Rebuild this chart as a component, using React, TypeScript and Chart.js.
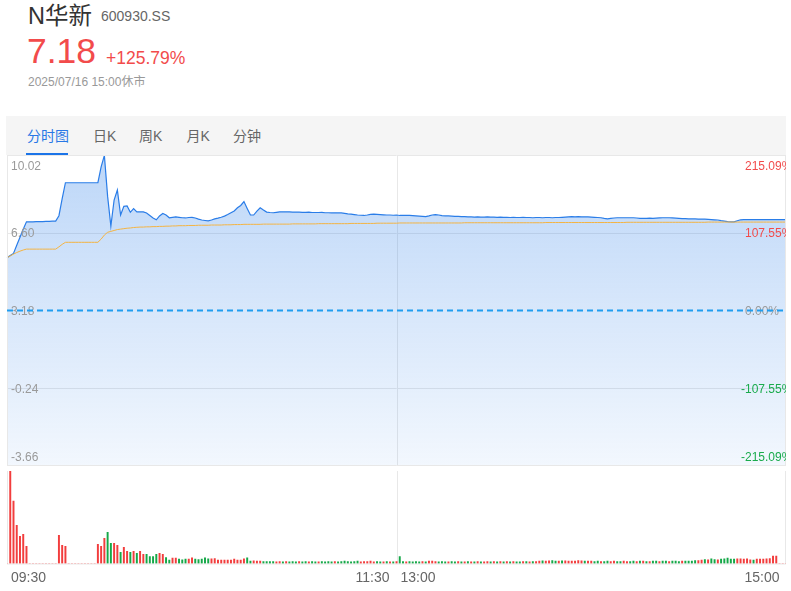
import React, { useEffect, useRef } from 'react';
import { Chart, registerables } from 'chart.js';

Chart.register(...registerables);

const FONT = '"Liberation Sans", Arial, "Noto Sans CJK SC", sans-serif';
const RED = '#f24b4b';
const GREEN = '#1aab4c';
const GRID = '#e8e8e8';

const prevClose = 3.18;
const priceTicks = [10.02, 6.6, 3.18, -0.24, -3.66];
const priceTickLabels = ['10.02', '6.60', '3.18', '-0.24', '-3.66'];
const pctTickLabels = ['215.09%', '107.55%', '0.00%', '-107.55%', '-215.09%'];
const timeTicks = ['09:30', '11:30', '13:00', '15:00'];

const price = [
  5.50, 5.60, 5.69, 6.05, 6.40, 6.75, 7.08, 7.08, 7.08, 7.09,
  7.09, 7.09, 7.10, 7.10, 7.11, 7.11, 7.35, 8.10, 8.80, 8.80,
  8.80, 8.80, 8.80, 8.80, 8.80, 8.80, 8.80, 8.80, 8.80, 9.50,
  10.00, 8.20, 6.89, 8.04, 8.48, 7.38, 7.76, 7.78, 7.50, 7.66,
  7.52, 7.52, 7.52, 7.47, 7.36, 7.25, 7.17, 7.34, 7.45, 7.38,
  7.26, 7.28, 7.30, 7.28, 7.26, 7.25, 7.27, 7.28, 7.25, 7.20,
  7.16, 7.14, 7.12, 7.16, 7.21, 7.24, 7.28, 7.33, 7.40, 7.48,
  7.56, 7.70, 7.80, 7.97, 7.67, 7.38, 7.38, 7.55, 7.70, 7.60,
  7.51, 7.49, 7.48, 7.50, 7.52, 7.52, 7.52, 7.52, 7.51, 7.51,
  7.51, 7.50, 7.50, 7.51, 7.49, 7.49, 7.49, 7.50, 7.48, 7.48,
  7.47, 7.48, 7.47, 7.47, 7.45, 7.43, 7.42, 7.40, 7.38, 7.37,
  7.36, 7.38, 7.41, 7.42, 7.41, 7.40, 7.39, 7.38, 7.38, 7.37,
  7.38, 7.36, 7.36, 7.37, 7.36, 7.35, 7.34, 7.33, 7.32, 7.31,
  7.34, 7.38, 7.40, 7.38, 7.35, 7.34, 7.34, 7.33, 7.32, 7.32,
  7.31, 7.31, 7.30, 7.30, 7.29, 7.30, 7.29, 7.29, 7.30, 7.29,
  7.29, 7.28, 7.29, 7.28, 7.28, 7.27, 7.28, 7.27, 7.27, 7.28,
  7.27, 7.27, 7.26, 7.27, 7.27, 7.26, 7.27, 7.27, 7.26, 7.27,
  7.27, 7.28, 7.29, 7.30, 7.31, 7.30, 7.31, 7.30, 7.30, 7.30,
  7.29, 7.28, 7.27, 7.26, 7.23, 7.21, 7.23, 7.25, 7.26, 7.26,
  7.26, 7.26, 7.26, 7.26, 7.25, 7.23, 7.23, 7.23, 7.24, 7.23,
  7.24, 7.25, 7.26, 7.26, 7.26, 7.25, 7.24, 7.23, 7.22, 7.22,
  7.21, 7.21, 7.21, 7.20, 7.20, 7.20, 7.19, 7.18, 7.17, 7.16,
  7.13, 7.11, 7.09, 7.08, 7.08, 7.13, 7.17, 7.18, 7.18, 7.18,
  7.18, 7.18, 7.18, 7.18, 7.18, 7.18, 7.18, 7.18, 7.18, 7.18,
  7.18,
];

const avgPrice = [
  5.50, 5.58, 5.66, 5.73, 5.79, 5.84, 5.88, 5.88, 5.88, 5.88,
  5.88, 5.88, 5.88, 5.88, 5.88, 5.88, 5.98, 6.09, 6.18, 6.18,
  6.18, 6.18, 6.18, 6.18, 6.18, 6.18, 6.18, 6.18, 6.18, 6.32,
  6.50, 6.62, 6.66, 6.70, 6.74, 6.76, 6.78, 6.80, 6.81, 6.83,
  6.84, 6.85, 6.85, 6.86, 6.86, 6.87, 6.87, 6.88, 6.88, 6.89,
  6.89, 6.90, 6.90, 6.91, 6.91, 6.91, 6.92, 6.92, 6.92, 6.93,
  6.93, 6.93, 6.93, 6.94, 6.94, 6.94, 6.94, 6.95, 6.95, 6.95,
  6.96, 6.96, 6.96, 6.97, 6.97, 6.97, 6.97, 6.97, 6.97, 6.98,
  6.98, 6.98, 6.98, 6.98, 6.98, 6.98, 6.98, 6.98, 6.99, 6.99,
  6.99, 6.99, 6.99, 6.99, 6.99, 6.99, 7.00, 7.00, 7.00, 7.00,
  7.00, 7.00, 7.00, 7.00, 7.00, 7.00, 7.01, 7.01, 7.01, 7.01,
  7.01, 7.01, 7.01, 7.01, 7.02, 7.02, 7.02, 7.02, 7.02, 7.02,
  7.02, 7.03, 7.03, 7.03, 7.03, 7.03, 7.03, 7.03, 7.03, 7.03,
  7.03, 7.03, 7.03, 7.03, 7.03, 7.03, 7.03, 7.03, 7.03, 7.03,
  7.03, 7.04, 7.04, 7.04, 7.04, 7.04, 7.04, 7.04, 7.04, 7.04,
  7.04, 7.04, 7.04, 7.04, 7.04, 7.04, 7.04, 7.04, 7.04, 7.04,
  7.04, 7.04, 7.04, 7.04, 7.04, 7.04, 7.05, 7.05, 7.05, 7.05,
  7.05, 7.05, 7.05, 7.05, 7.05, 7.05, 7.05, 7.05, 7.05, 7.05,
  7.05, 7.05, 7.05, 7.05, 7.05, 7.05, 7.05, 7.05, 7.05, 7.05,
  7.05, 7.06, 7.06, 7.06, 7.06, 7.06, 7.06, 7.06, 7.06, 7.06,
  7.06, 7.06, 7.06, 7.06, 7.06, 7.06, 7.06, 7.06, 7.06, 7.06,
  7.06, 7.06, 7.06, 7.06, 7.06, 7.06, 7.07, 7.07, 7.07, 7.07,
  7.07, 7.07, 7.07, 7.07, 7.07, 7.07, 7.07, 7.07, 7.07, 7.07,
  7.07, 7.07, 7.07, 7.07, 7.07, 7.07, 7.07, 7.07, 7.07, 7.07,
  7.07,
];

const volume = [
  0, 92, 62, 38, 27, 29, 17, 0, 0, 0,
  0, 0, 0, 0, 0, 0, 28, 18, 17, 0,
  0, 0, 0, 0, 0, 0, 0, 0, 19, 17,
  25, 31, 20, 20, 18, 11, 16, 12, 11, 12,
  10, 12, 9, 9, 7, 7, 9, 10, 9, 6,
  3.3, 5.3, 5.3, 4.3, 3.7, 4.3, 4.3, 5.7, 4.3, 4,
  4.3, 5.7, 4.7, 4.7, 5, 3.3, 3.3, 3.3, 3.3, 3.3,
  4.3, 3.3, 3.3, 4.7, 5.7, 2.3, 2.7, 2.3, 2.3, 2,
  2, 2, 2.0, 1.7, 2.0, 1.7, 2.0, 1.7, 2.0, 1.7,
  2.0, 1.7, 2.0, 1.7, 2.0, 1.7, 1.7, 2.0, 1.7, 2.0,
  1.7, 2.0, 1.7, 2.0, 2.3, 2.0, 1.7, 2.0, 2.3, 1.7,
  2.0, 2.0, 2.3, 1.7, 2.0, 1.7, 1.7, 2.0, 1.7, 1.7,
  2.0, 7.0, 2.0, 1.7, 2.0, 1.7, 2.0, 1.7, 2.0, 1.7,
  2.3, 2.3, 2.0, 1.7, 2.0, 1.7, 1.7, 2.0, 1.7, 2.0,
  1.7, 1.7, 2.0, 1.7, 1.7, 2.0, 1.7, 1.7, 2.0, 1.7,
  2.0, 1.7, 2.0, 1.7, 2.0, 1.7, 2.0, 1.7, 1.7, 2.0,
  2.0, 1.7, 2.0, 2.0, 2.3, 2.7, 2.3, 2.7, 3.0, 2.3,
  2.3, 2.7, 2.7, 2.3, 2.3, 2.3, 3.0, 2.7, 2.3, 2.3,
  2.3, 2.0, 2.3, 2.0, 2.0, 2.3, 2.0, 2.3, 2.0, 2.0,
  2.3, 2.0, 2.0, 2.3, 2.0, 2.3, 2.3, 2.0, 2.0, 2.3,
  2.3, 2.0, 2.3, 2.3, 2.0, 2.3, 2.3, 2.0, 2.3, 2.3,
  2.3, 2.3, 3.0, 3.0, 3.3, 4.0, 3.7, 4.7, 4.0, 3.7,
  4.3, 4.7, 5.3, 4.3, 4.3, 4.7, 4.7, 4.3, 4.7, 3.7,
  3.3, 4.3, 4.3, 4.3, 4.7, 5.0, 7.3, 7.3, 0, 0,
  0,
];

// u = up (red), d = down (green)
const volumeDir = (
  'uuuuuuuuuu' + 'uuuuuuuuuu' + 'uuuuuuuuuu' + 'udduuduudu' +
  'duudddduud' + 'duuddduudd' + 'ddduuuuuuu' + 'uuuudduuud' +
  'ddduududdd' + 'uddudduddd' + 'dudddddddu' + 'uuuuddudud' +
  'udduddddud' + 'uuuddduddu' + 'dudududuud' + 'ududududdu' +
  'duduuduudd' + 'uduuuuuudu' + 'uddudduudd' + 'uuddududud' +
  'duddudddud' + 'ddduududdu' + 'ddddduuuuu' + 'duuuuuuuuuu'
).split('');

function buildMinuteLabels(): string[] {
  const out: string[] = [];
  const push = (h: number, m: number) =>
    out.push(String(h).padStart(2, '0') + ':' + String(m).padStart(2, '0'));
  for (let t = 9 * 60 + 30; t <= 11 * 60 + 30; t++) push(Math.floor(t / 60), t % 60);
  for (let t = 13 * 60 + 1; t <= 15 * 60; t++) push(Math.floor(t / 60), t % 60);
  return out;
}
const minuteLabels = buildMinuteLabels();

const priceDecor = {
  id: 'priceDecor',
  beforeDatasetsDraw(chart: any) {
    const { ctx, chartArea: a, scales } = chart;
    const y = scales.y;
    const x = scales.x;
    ctx.save();
    ctx.strokeStyle = GRID;
    ctx.lineWidth = 1;
    ctx.beginPath();
    [priceTicks[1], priceTicks[3]].forEach((v) => {
      const py = Math.round(y.getPixelForValue(v)) + 0.5;
      ctx.moveTo(a.left, py);
      ctx.lineTo(a.right, py);
    });
    const vx = Math.round(x.getPixelForValue(120)) + 0.5;
    ctx.moveTo(vx, a.top);
    ctx.lineTo(vx, a.bottom);
    ctx.stroke();
    ctx.restore();
  },
  afterDatasetsDraw(chart: any) {
    const { ctx, chartArea: a, scales } = chart;
    const y = scales.y;
    ctx.save();
    ctx.strokeStyle = GRID;
    ctx.lineWidth = 1;
    ctx.beginPath();
    ctx.moveTo(a.left + 0.5, a.top);
    ctx.lineTo(a.left + 0.5, a.bottom);
    ctx.moveTo(a.right - 0.5, a.top);
    ctx.lineTo(a.right - 0.5, a.bottom);
    ctx.moveTo(a.left, a.bottom - 0.5);
    ctx.lineTo(a.right, a.bottom - 0.5);
    ctx.moveTo(a.left, a.top + 0.5);
    ctx.lineTo(a.right, a.top + 0.5);
    ctx.stroke();

    ctx.beginPath();
    ctx.rect(a.left, a.top, a.right - a.left, a.bottom - a.top);
    ctx.clip();
    ctx.font = '12px ' + FONT;
    ctx.textBaseline = 'middle';
    const n = priceTicks.length;
    priceTicks.forEach((v, k) => {
      let py = y.getPixelForValue(v) + 1;
      if (k === 0) py = a.top + 12;
      if (k === n - 1) py = a.bottom - 8.5;
      ctx.textAlign = 'left';
      ctx.fillStyle = '#9a9a9a';
      ctx.fillText(priceTickLabels[k], a.left + 4, py);
      const pl = pctTickLabels[k];
      ctx.fillStyle = k < 2 ? RED : k === 2 ? '#9a9a9a' : GREEN;
      let px = 745;
      if (pl.startsWith('-')) px -= ctx.measureText('-').width;
      ctx.fillText(pl, px, py);
    });

    const cy = y.getPixelForValue(prevClose);
    ctx.strokeStyle = '#1f9df0';
    ctx.lineWidth = 2;
    ctx.setLineDash([6, 4]);
    ctx.beginPath();
    ctx.moveTo(a.left, cy);
    ctx.lineTo(a.right, cy);
    ctx.stroke();
    ctx.restore();
  },
};

const volDecor = {
  id: 'volDecor',
  beforeDatasetsDraw(chart: any) {
    const { ctx, chartArea: a, scales } = chart;
    const x = scales.x;
    ctx.save();
    ctx.strokeStyle = GRID;
    ctx.lineWidth = 1;
    ctx.beginPath();
    const vx = Math.round(x.getPixelForValue(120)) + 0.5;
    ctx.moveTo(vx, a.top);
    ctx.lineTo(vx, a.bottom);
    ctx.moveTo(a.left + 0.5, a.top);
    ctx.lineTo(a.left + 0.5, a.bottom);
    ctx.moveTo(a.right - 0.5, a.top);
    ctx.lineTo(a.right - 0.5, a.bottom);
    ctx.moveTo(a.left, a.bottom + 0.5);
    ctx.lineTo(a.right, a.bottom + 0.5);
    ctx.stroke();
    ctx.restore();
  },
  afterDraw(chart: any) {
    const { ctx, chartArea: a, scales } = chart;
    const x = scales.x;
    ctx.save();
    ctx.font = '14px ' + FONT;
    ctx.fillStyle = '#666';
    ctx.textBaseline = 'middle';
    const ty = a.bottom + 14.5;
    const mid = x.getPixelForValue(120);
    ctx.textAlign = 'left';
    ctx.fillText(timeTicks[0], x.getPixelForValue(0) + 4, ty);
    ctx.textAlign = 'right';
    ctx.fillText(timeTicks[1], mid - 7, ty);
    ctx.textAlign = 'left';
    ctx.fillText(timeTicks[2], mid + 4, ty);
    ctx.textAlign = 'right';
    ctx.fillText(timeTicks[3], x.getPixelForValue(240) - 6.5, ty);
    ctx.restore();
  },
};

const abs = (s: React.CSSProperties): React.CSSProperties => ({
  position: 'absolute',
  whiteSpace: 'nowrap',
  margin: 0,
  ...s,
});

export default function App() {
  const priceRef = useRef<HTMLCanvasElement>(null);
  const volRef = useRef<HTMLCanvasElement>(null);

  useEffect(() => {
    const pc = new Chart(priceRef.current as HTMLCanvasElement, {
      type: 'line',
      data: {
        labels: minuteLabels,
        datasets: [
          {
            label: '均价',
            data: avgPrice,
            borderColor: '#f4b443',
            borderWidth: 1,
            pointRadius: 0,
            fill: false,
            tension: 0,
            order: 1,
          },
          {
            label: '价格',
            data: price,
            borderColor: '#2a7de8',
            borderWidth: 1.2,
            pointRadius: 0,
            tension: 0,
            fill: 'start',
            order: 2,
            backgroundColor: (c: any) => {
              const area = c.chart.chartArea;
              if (!area) return 'rgba(36,122,232,0.2)';
              const g = c.chart.ctx.createLinearGradient(0, area.top, 0, area.bottom);
              g.addColorStop(0, 'rgba(36,122,232,0.30)');
              g.addColorStop(1, 'rgba(36,122,232,0.06)');
              return g;
            },
          },
        ],
      },
      options: {
        responsive: false,
        animation: false,
        events: [],
        layout: { padding: { left: 7, right: 5, top: 5, bottom: 6 } },
        plugins: { legend: { display: false }, tooltip: { enabled: false } },
        scales: {
          x: { display: false },
          y: { display: false, min: priceTicks[4], max: priceTicks[0] },
        },
      },
      plugins: [priceDecor],
    } as any);

    const vc = new Chart(volRef.current as HTMLCanvasElement, {
      type: 'bar',
      data: {
        labels: minuteLabels,
        datasets: [
          {
            label: '成交量',
            data: volume,
            backgroundColor: volumeDir.map((d) => (d === 'u' ? '#f23d3d' : '#15a848')),
            borderWidth: 0,
            barThickness: 1.3,
          },
        ],
      },
      options: {
        responsive: false,
        animation: false,
        events: [],
        layout: { padding: { left: 7, right: 5, top: 5, bottom: 27.5 } },
        plugins: { legend: { display: false }, tooltip: { enabled: false } },
        scales: {
          x: { display: false, offset: false },
          y: { display: false, min: 0, max: 92 },
        },
      },
      plugins: [volDecor],
    } as any);

    return () => {
      pc.destroy();
      vc.destroy();
    };
  }, []);

  return (
    <div
      style={{
        position: 'absolute',
        left: 0,
        top: 0,
        width: 791,
        height: 591,
        background: '#fff',
        fontFamily: FONT,
        overflow: 'hidden',
      }}
    >
      <div style={abs({ left: 28, top: 5, fontSize: 23.5, lineHeight: '23.5px', color: '#333' })}>N华新</div>
      <div style={abs({ left: 101, top: 9, fontSize: 14, lineHeight: '14px', color: '#666' })}>600930.SS</div>
      <div style={abs({ left: 27, top: 34, fontSize: 35.5, lineHeight: '35.5px', color: RED })}>7.18</div>
      <div style={abs({ left: 106, top: 49.5, fontSize: 17.5, lineHeight: '17.5px', color: RED })}>+125.79%</div>
      <div style={abs({ left: 28, top: 76, fontSize: 12, lineHeight: '12px', color: '#999' })}>
        2025/07/16 15:00休市
      </div>

      <div style={abs({ left: 6, top: 116, width: 780, height: 39, background: '#f5f5f5' })} />
      <div style={abs({ left: 27, top: 128.5, fontSize: 14, lineHeight: '14px', color: '#2878e6' })}>分时图</div>
      <div style={abs({ left: 93, top: 128.5, fontSize: 14, lineHeight: '14px', color: '#666' })}>日K</div>
      <div style={abs({ left: 139, top: 128.5, fontSize: 14, lineHeight: '14px', color: '#666' })}>周K</div>
      <div style={abs({ left: 186.5, top: 128.5, fontSize: 14, lineHeight: '14px', color: '#666' })}>月K</div>
      <div style={abs({ left: 233, top: 128.5, fontSize: 14, lineHeight: '14px', color: '#666' })}>分钟</div>
      <div style={abs({ left: 26, top: 153, width: 42, height: 2, background: '#1b74e8' })} />

      <canvas ref={priceRef} width={791} height={322} style={abs({ left: 0, top: 150, width: 791, height: 322 })} />
      <canvas ref={volRef} width={791} height={125} style={abs({ left: 0, top: 466, width: 791, height: 125 })} />
    </div>
  );
}
